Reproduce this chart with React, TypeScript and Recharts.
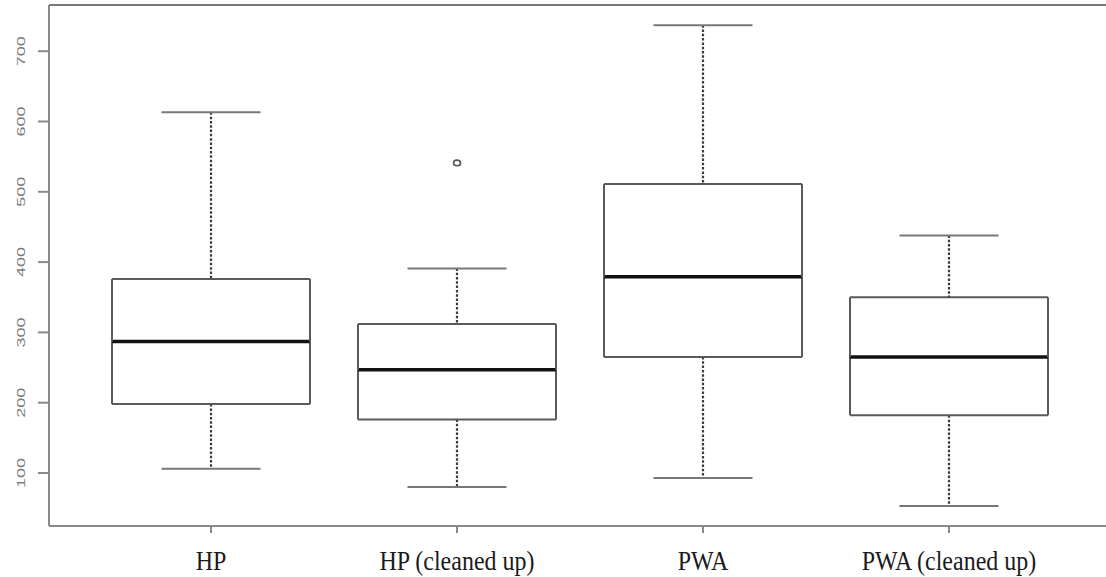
import { ComposedChart, Bar, Scatter, XAxis, YAxis, ReferenceLine } from "recharts";

const groups = ["HP", "HP (cleaned up)", "PWA", "PWA (cleaned up)"];
const whiskerLow = [106, 80, 93, 53];
const q1 = [198, 176, 265, 182];
const median = [287, 247, 379, 265];
const q3 = [376, 312, 511, 350];
const whiskerHigh = [613, 391, 737, 438];
const outliers: (number | null)[] = [null, 541, null, null];
const yTicks = [100, 200, 300, 400, 500, 600, 700];
const yDomain: [number, number] = [24.6, 765.7];

const data = groups.map((name, i) => ({
  name,
  base: whiskerLow[i],
  lowWhisker: q1[i] - whiskerLow[i],
  lowBox: median[i] - q1[i],
  highBox: q3[i] - median[i],
  highWhisker: whiskerHigh[i] - q3[i],
  outlier: outliers[i],
}));

const BOX = "#5a5a5a";
const AXIS = "#8a8a8a";
const DASH = "#3c3c3c";

function LowWhisker(p: any) {
  const cx = Math.round(p.x + p.width / 2);
  const q = p.width / 4;
  return (
    <g>
      <line x1={cx} y1={p.y} x2={cx} y2={p.y + p.height} stroke={DASH} strokeWidth={2.2} strokeDasharray="2.5 1.8" />
      <line x1={cx - q} y1={p.y + p.height} x2={cx + q} y2={p.y + p.height} stroke="#777" strokeWidth={2} />
    </g>
  );
}

function HighWhisker(p: any) {
  const cx = Math.round(p.x + p.width / 2);
  const q = p.width / 4;
  return (
    <g>
      <line x1={cx} y1={p.y} x2={cx} y2={p.y + p.height} stroke={DASH} strokeWidth={2.2} strokeDasharray="2.5 1.8" />
      <line x1={cx - q} y1={p.y} x2={cx + q} y2={p.y} stroke="#777" strokeWidth={2} />
    </g>
  );
}

function LowBox(p: any) {
  const { x, y, width, height } = p;
  return (
    <g>
      <line x1={x} y1={y} x2={x} y2={y + height} stroke={BOX} strokeWidth={2} />
      <line x1={x + width} y1={y} x2={x + width} y2={y + height} stroke={BOX} strokeWidth={2} />
      <line x1={x} y1={y + height} x2={x + width} y2={y + height} stroke={BOX} strokeWidth={2} />
      <line x1={x} y1={y} x2={x + width} y2={y} stroke="#111" strokeWidth={3.5} />
    </g>
  );
}

function HighBox(p: any) {
  const { x, y, width, height } = p;
  return (
    <g>
      <line x1={x} y1={y} x2={x} y2={y + height} stroke={BOX} strokeWidth={2} />
      <line x1={x + width} y1={y} x2={x + width} y2={y + height} stroke={BOX} strokeWidth={2} />
      <line x1={x} y1={y} x2={x + width} y2={y} stroke={BOX} strokeWidth={2} />
    </g>
  );
}

function OutlierDot(p: any) {
  if (p.payload == null || p.payload.outlier == null) return <g />;
  return <ellipse cx={p.cx} cy={p.cy} rx={3.5} ry={2.8} fill="none" stroke="#555" strokeWidth={1.6} />;
}

function YTick(p: any) {
  return (
    <text
      transform={`translate(${p.x - 13},${p.y}) rotate(-90)`}
      textAnchor="middle"
      fontFamily="Liberation Sans, Arial, sans-serif"
      fontSize={11.5}
      fill="#7a7a7a"
      textLength={30}
      lengthAdjust="spacingAndGlyphs"
    >
      {p.payload.value}
    </text>
  );
}

function XTick(p: any) {
  return (
    <text
      transform={`translate(${p.x},${p.y + 37}) scale(1,1.12)`}
      textAnchor="middle"
      fontFamily="Liberation Serif, Times New Roman, serif"
      fontSize={24}
      fill="#1a1a1a"
    >
      {p.payload.value}
    </text>
  );
}

export default function App() {
  return (
    <div style={{ position: "absolute", left: 0, top: 0, width: 1106, height: 577, background: "#fff", overflow: "hidden" }}>
      <ComposedChart width={1106} height={577} data={data} margin={{ top: 5, right: 0, left: 0, bottom: 0 }}>
        <XAxis
          dataKey="name"
          padding={{ left: 39, right: 34 }}
          height={51}
          tickSize={7}
          tickMargin={0}
          tick={<XTick />}
          axisLine={{ stroke: AXIS, strokeWidth: 2 }}
          tickLine={{ stroke: AXIS, strokeWidth: 2 }}
          interval={0}
        />
        <YAxis
          type="number"
          domain={yDomain}
          ticks={yTicks}
          allowDataOverflow
          width={49}
          tickSize={11}
          tickMargin={0}
          tick={<YTick />}
          axisLine={{ stroke: AXIS, strokeWidth: 2 }}
          tickLine={{ stroke: AXIS, strokeWidth: 2 }}
        />
        <ReferenceLine y={yDomain[1]} stroke="#777" strokeWidth={2} ifOverflow="visible" />
        <Bar dataKey="base" stackId="box" fill="transparent" barSize={198} isAnimationActive={false} />
        <Bar dataKey="lowWhisker" stackId="box" barSize={198} shape={<LowWhisker />} isAnimationActive={false} />
        <Bar dataKey="lowBox" stackId="box" barSize={198} shape={<LowBox />} isAnimationActive={false} />
        <Bar dataKey="highBox" stackId="box" barSize={198} shape={<HighBox />} isAnimationActive={false} />
        <Bar dataKey="highWhisker" stackId="box" barSize={198} shape={<HighWhisker />} isAnimationActive={false} />
        <Scatter dataKey="outlier" shape={<OutlierDot />} isAnimationActive={false} />
      </ComposedChart>
    </div>
  );
}
